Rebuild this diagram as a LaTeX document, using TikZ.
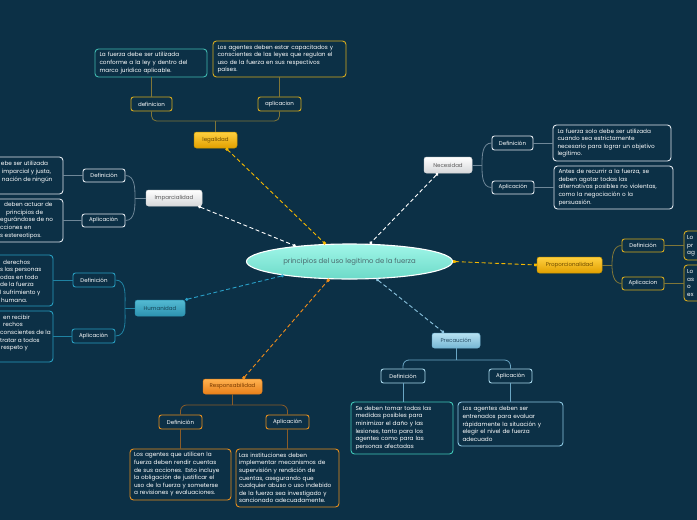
\documentclass[tikz,border=0pt]{standalone}
\usepackage{fontspec}
\setmainfont{Poppins}
\usetikzlibrary{shapes.geometric,arrows.meta}
\definecolor{bgc}{RGB}{12,48,70}
\definecolor{goldA}{RGB}{255,208,64}
\definecolor{goldB}{RGB}{226,160,0}
\definecolor{goldD}{RGB}{200,150,0}
\definecolor{goldT}{RGB}{110,75,0}
\definecolor{goldS}{RGB}{214,170,30}
\definecolor{goldL}{RGB}{128,118,56}
\definecolor{goldC}{RGB}{245,184,0}
\definecolor{tealN}{RGB}{64,184,176}
\definecolor{grayA}{RGB}{255,255,255}
\definecolor{grayB}{RGB}{214,216,218}
\definecolor{grayT}{RGB}{90,90,90}
\definecolor{grayL}{RGB}{111,135,152}
\definecolor{subW}{RGB}{225,232,238}
\definecolor{humA}{RGB}{84,186,210}
\definecolor{humB}{RGB}{44,146,176}
\definecolor{humT}{RGB}{24,70,88}
\definecolor{humS}{RGB}{40,158,192}
\definecolor{humL}{RGB}{31,130,162}
\definecolor{humC}{RGB}{42,160,200}
\definecolor{oraA}{RGB}{255,178,80}
\definecolor{oraB}{RGB}{232,128,26}
\definecolor{oraT}{RGB}{120,58,0}
\definecolor{oraS}{RGB}{232,144,30}
\definecolor{oraL}{RGB}{138,92,40}
\definecolor{oraC}{RGB}{240,140,26}
\definecolor{preA}{RGB}{184,226,242}
\definecolor{preB}{RGB}{118,182,212}
\definecolor{preT}{RGB}{40,78,102}
\definecolor{preS}{RGB}{168,216,236}
\definecolor{preN}{RGB}{64,200,184}
\definecolor{preM}{RGB}{140,200,226}
\definecolor{preL}{RGB}{106,166,196}
\definecolor{preC}{RGB}{140,196,224}
\definecolor{ellA}{RGB}{160,246,232}
\definecolor{ellB}{RGB}{108,218,200}
\definecolor{ellT}{RGB}{75,106,110}
\newcommand\notefont{\fontsize{5.75}{7.6}\selectfont}
\newcommand\labfont{\fontsize{5.5}{6.5}\selectfont}
\begin{document}
\begin{tikzpicture}[x=1pt,y=-1pt,
  topic/.style={rounded corners=2.5pt, inner sep=0pt, minimum height=16pt, font=\labfont, line width=0.5pt},
  sub/.style={rounded corners=2.5pt, inner sep=0pt, minimum height=14pt, font=\labfont, text=white, fill=bgc, draw, line width=0.9pt},
  note/.style={rounded corners=3.5pt, inner xsep=4.5pt, inner ysep=0pt, font=\notefont, text=white, fill=bgc, draw, line width=0.9pt, align=left},
  notetxt/.style={inner sep=0pt, font=\notefont, text=white, align=left, anchor=west},
  tree/.style={line width=0.8pt},
  conn/.style={line width=0.9pt, dash pattern=on 4pt off 2.6pt},
  sq/.style={{Square[length=2.6pt,width=2.6pt]}-{Square[length=2.6pt,width=2.6pt]}},
  ci/.style={{Circle[length=3pt]}-{Circle[length=3pt]}}
]
\useasboundingbox (0,0) rectangle (697,520);
\clip (0,0) rectangle (697,520);
\fill[bgc] (0,0) rectangle (697,520);

% ---------- central ----------
\node[ellipse, minimum width=206pt, minimum height=35pt, inner sep=0pt, top color=ellA, bottom color=ellB, draw=white, line width=1.1pt, text=ellT, font=\fontsize{6.9}{7.5}\selectfont] (ell) at (349.5,261.5) {principios del uso legitimo de la fuerza};

% ---------- topics ----------
\node[topic, top color=goldA, bottom color=goldB, draw=goldD, text=goldT, minimum width=43pt] (leg) at (215.5,140) {legalidad};
\node[topic, top color=grayA, bottom color=grayB, draw=grayB, text=grayT, minimum width=56pt] (imp) at (174,198) {Imparcialidad};
\node[topic, top color=grayA, bottom color=grayB, draw=grayB, text=grayT, minimum width=48pt] (nec) at (448,165) {Necesidad};
\node[topic, top color=goldA, bottom color=goldB, draw=goldD, text=goldT, minimum width=65pt] (prop) at (569.5,265) {Proporcionalidad};
\node[topic, top color=humA, bottom color=humB, draw=humB, text=humT, minimum width=50pt] (hum) at (160,308) {Humanidad};
\node[topic, top color=oraA, bottom color=oraB, draw=oraB, text=oraT, minimum width=59pt, minimum height=15pt] (res) at (232.5,386.5) {Responsabilidad};
\node[topic, top color=preA, bottom color=preB, draw=preB, text=preT, minimum width=48pt, minimum height=15pt] (pre) at (456,340.5) {Precaución};

% ---------- connectors to centre ----------
\draw[conn, sq, goldC] ([xshift=10.5pt]leg.south) -- (ell.144);
\draw[conn, ci, white] ([xshift=-4pt]imp.south east) -- (ell.164);
\draw[conn, ci, white] ([xshift=-10pt]nec.south) -- (ell.41);
\draw[conn, sq, goldC] (ell.0) -- (prop.west);
\draw[conn, ci, humC] (hum.north east) -- (ell.192);
\draw[conn, sq, oraC] ([xshift=10.5pt]res.north) -- (ell.221);
\draw[conn, ci, preC] (ell.327) -- ([xshift=-12pt]pre.north);

% ---------- legalidad ----------
\node[sub, draw=goldS, minimum width=41pt] (legDef) at (151.5,104) {definicion};
\node[sub, draw=goldS, minimum width=43pt] (legApl) at (279.5,104) {aplicacion};
\node[note, draw=tealN, minimum width=112pt, minimum height=28pt, text width=103pt] (legN1) at (151,63) {La fuerza debe ser utilizada\\conforme a la ley y dentro del\\marco jurídico aplicable.};
\node[note, draw=goldS, minimum width=133pt, minimum height=36pt, text width=124pt] (legN2) at (279.5,59) {Los agentes deben estar capacitados y\\conscientes de las leyes que regulan el\\uso de la fuerza en sus respectivos\\países.};
\coordinate (legJ) at (215.5,121);
\draw[tree, goldL, rounded corners=5pt] (legDef.south) |- (legJ) -| (legApl.south);
\draw[tree, goldL] (leg.north) -- (legJ);
\draw[tree, goldL] (legDef.north) -- (legDef.north |- legN1.south);
\draw[tree, goldL] (legApl.north) -- (legN2.south);

% ---------- imparcialidad ----------
\node[sub, draw=subW, minimum width=42pt, minimum height=13pt] (impDef) at (104,175.5) {Definición};
\node[sub, draw=subW, minimum width=43pt, minimum height=13pt] (impApl) at (103.5,220.5) {Aplicación};
\node[note, draw=subW, minimum width=93pt, minimum height=37pt] (impN1) at (16.5,175.5) {};
\node[note, draw=subW, minimum width=93pt, minimum height=43pt] (impN2) at (16.5,220.5) {};
\node[notetxt] (impT1) at (0.8,172) {ebe ser utilizada\\\hspace*{1pt}imparcial y justa,\\\hspace*{1pt}nación de ningún};
\node[notetxt] (impT2) at (0,220.5) {\hspace*{4pt}deben actuar de\\\hspace*{6pt}principios de\\egurándose de no\\cciones en\\s estereotipos.};
\coordinate (impJ) at (135,198);
\draw[tree, grayL] (impDef.east) to[out=0,in=90] (impJ) to[out=-90,in=0] (impApl.east);
\draw[tree, grayL] (impJ) -- (imp.west);
\draw[tree, grayL] (impN1.east) -- (impDef.west);
\draw[tree, grayL] (impN2.east) -- (impApl.west);

% ---------- humanidad ----------
\node[sub, draw=humS, minimum width=42pt] (humDef) at (94,280) {Definición};
\node[sub, draw=humS, minimum width=43pt] (humApl) at (93.5,336) {Aplicación};
\node[note, draw=humS, minimum width=93pt, minimum height=51pt] (humN1) at (6.5,280.5) {};
\node[note, draw=humS, minimum width=93pt, minimum height=51pt] (humN2) at (6.5,336.5) {};
\node[notetxt] (humT1) at (0,281) {\hspace*{3pt}derechos\\s las personas\\odas en todo\\de la fuerza\\l sufrimiento y\\\hspace*{1pt}humana.};
\node[notetxt] (humT2) at (0,333) {\hspace*{3pt}en recibir\\\hspace*{3pt}rechos\\conscientes de la\\tratar a todos\\\hspace*{1pt}respeto y};
\coordinate (humJ) at (125,308);
\draw[tree, humL] (humDef.east) to[out=0,in=90] (humJ) to[out=-90,in=0] (humApl.east);
\draw[tree, humL] (humJ) -- (hum.west);
\draw[tree, humL] (humN1.east |- humDef) -- (humDef.west);
\draw[tree, humL] (humN2.east |- humApl) -- (humApl.west);

% ---------- necesidad ----------
\node[sub, draw=subW, minimum width=41pt] (necDef) at (512.5,143) {Definición};
\node[sub, draw=subW, minimum width=42pt, minimum height=13pt] (necApl) at (513,187.5) {Aplicación};
\node[note, draw=subW, minimum width=118pt, minimum height=36pt, text width=109pt] (necN1) at (612,143) {La fuerza solo debe ser utilizada\\cuando sea estrictamente\\necesario para lograr un objetivo\\legítimo.};
\node[note, draw=subW, minimum width=119pt, minimum height=43pt, text width=110pt] (necN2) at (613.5,187.5) {Antes de recurrir a la fuerza, se\\deben agotar todas las\\alternativas posibles no violentas,\\como la negociación o la\\persuasión.};
\coordinate (necJ) at (482,165);
\draw[tree, grayL] (nec.east) -- (necJ);
\draw[tree, grayL] (necDef.west) to[out=180,in=90] (necJ) to[out=-90,in=180] (necApl.west);
\draw[tree, grayL] (necDef.east) -- (necN1.west);
\draw[tree, grayL] (necApl.east) -- (necN2.west);

% ---------- proporcionalidad ----------
\node[sub, draw=goldS, minimum width=42pt, minimum height=13pt] (propDef) at (643,245.5) {Definición};
\node[sub, draw=goldS, minimum width=42pt, minimum height=13pt] (propApl) at (643,283.5) {Aplicacion};
\node[note, draw=goldS, minimum width=80pt, minimum height=29pt] (propN1) at (724,245.5) {};
\node[note, draw=goldS, minimum width=80pt, minimum height=36pt] (propN2) at (724,283) {};
\node[notetxt] (propT1) at (687,246) {Lo\\pr\\ag};
\node[notetxt] (propT2) at (687,283) {Lo\\as\\o\\ex};
\coordinate (propJ) at (612,265);
\draw[tree, goldL] (prop.east) -- (propJ);
\draw[tree, goldL] (propDef.west) to[out=180,in=90] (propJ) to[out=-90,in=180] (propApl.west);
\draw[tree, goldL] (propDef.east) -- (propDef.east -| propN1.west);
\draw[tree, goldL] (propApl.east) -- (propApl.east -| propN2.west);

% ---------- precaucion ----------
\node[sub, draw=preS, minimum width=44pt] (preDef) at (403,376) {Definición};
\node[sub, draw=preS, minimum width=43pt] (preApl) at (510.5,376) {Aplicación};
\node[note, draw=preN, minimum width=102pt, minimum height=52pt, text width=93pt] (preN1) at (402,428) {Se deben tomar todas las\\medidas posibles para\\minimizar el daño y las\\lesiones, tanto para los\\agentes como para las\\personas afectadas};
\node[note, draw=preM, minimum width=105pt, minimum height=44pt, text width=96pt] (preN2) at (510.5,424) {Los agentes deben ser\\entrenados para evaluar\\rápidamente la situación y\\elegir el nivel de fuerza\\adecuado};
\coordinate (preJ) at (456,360);
\draw[tree, preL, rounded corners=6pt] (preDef.north) |- (preJ) -| (preApl.north);
\draw[tree, preL] (pre.south) -- (preJ);
\draw[tree, preL] (preDef.south) -- (preDef.south |- preN1.north);
\draw[tree, preL] (preApl.south) -- (preN2.north);

% ---------- responsabilidad ----------
\node[sub, draw=oraS, minimum width=43pt] (resDef) at (180.5,422) {Definición};
\node[sub, draw=oraS, minimum width=43pt] (resApl) at (287.5,422) {Aplicación};
\node[note, draw=oraS, minimum width=101pt, minimum height=51pt, text width=93pt, inner xsep=4pt] (resN1) at (180.5,474.5) {Los agentes que utilicen la\\fuerza deben rendir cuentas\\de sus acciones. Esto incluye\\la obligación de justificar el\\uso de la fuerza y someterse\\a revisiones y evaluaciones.};
\node[note, draw=oraS, minimum width=103pt, minimum height=58pt, text width=97pt, inner xsep=3pt] (resN2) at (287.5,478) {Las instituciones deben\\implementar mecanismos de\\supervisión y rendición de\\cuentas, asegurando que\\cualquier abuso o uso indebido\\de la fuerza sea investigado y\\sancionado adecuadamente.};
\coordinate (resJ) at (232.5,405);
\draw[tree, oraL, rounded corners=6pt] (resDef.north) |- (resJ) -| (resApl.north);
\draw[tree, oraL] (res.south) -- (resJ);
\draw[tree, oraL] (resDef.south) -- (resN1.north);
\draw[tree, oraL] (resApl.south) -- (resN2.north);
\end{tikzpicture}
\end{document}
